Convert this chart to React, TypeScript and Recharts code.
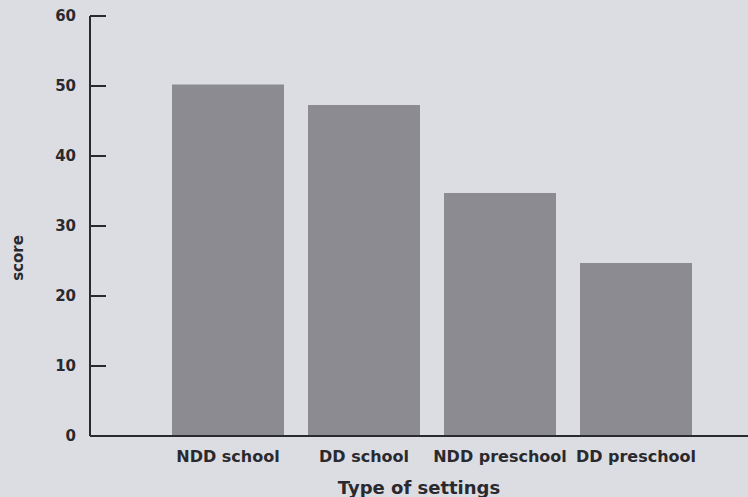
import React from "react";
import { BarChart, Bar, XAxis, YAxis, Label } from "recharts";

const settings = ["NDD school", "DD school", "NDD preschool", "DD preschool"];
const scores = [50.2, 47.3, 34.7, 24.7];
const yTicks = [0, 10, 20, 30, 40, 50, 60];

const data = settings.map((setting, i) => ({ setting, score: scores[i] }));

const font = "'DejaVu Sans', sans-serif";
const ink = "#2a2a2e";

export default function App() {
  return (
    <div style={{ position: "fixed", left: 0, top: 0, width: 748, height: 497, background: "#dcdce3" }}>
      <BarChart width={748} height={497} data={data} margin={{ top: 16, right: 0, bottom: 0, left: 0 }}>
        <XAxis
          dataKey="setting"
          height={61}
          padding={{ left: 70, right: 44 }}
          tickLine={false}
          tickSize={0}
          tickMargin={15}
          axisLine={{ stroke: ink, strokeWidth: 2 }}
          tick={{ fill: ink, fontSize: 16, fontWeight: "bold", fontFamily: font }}
        >
          <Label
            value="Type of settings"
            position="center"
            dy={21}
            style={{ fill: ink, fontSize: 18, fontWeight: "bold", fontFamily: font }}
          />
        </XAxis>
        <YAxis
          width={90}
          domain={[0, 60]}
          ticks={yTicks}
          interval={0}
          tickSize={-16}
          tickMargin={30}
          tickLine={{ stroke: ink, strokeWidth: 2 }}
          axisLine={{ stroke: ink, strokeWidth: 2 }}
          tick={{ fill: ink, fontSize: 15, fontWeight: "bold", fontFamily: font }}
        >
          <Label
            value="score"
            angle={-90}
            position="center"
            dx={-27}
            dy={32}
            style={{ fill: ink, fontSize: 15, fontWeight: "bold", fontFamily: font, textAnchor: "middle" }}
          />
        </YAxis>
        <Bar dataKey="score" fill="#8b8b91" barSize={112} isAnimationActive={false} />
      </BarChart>
    </div>
  );
}
